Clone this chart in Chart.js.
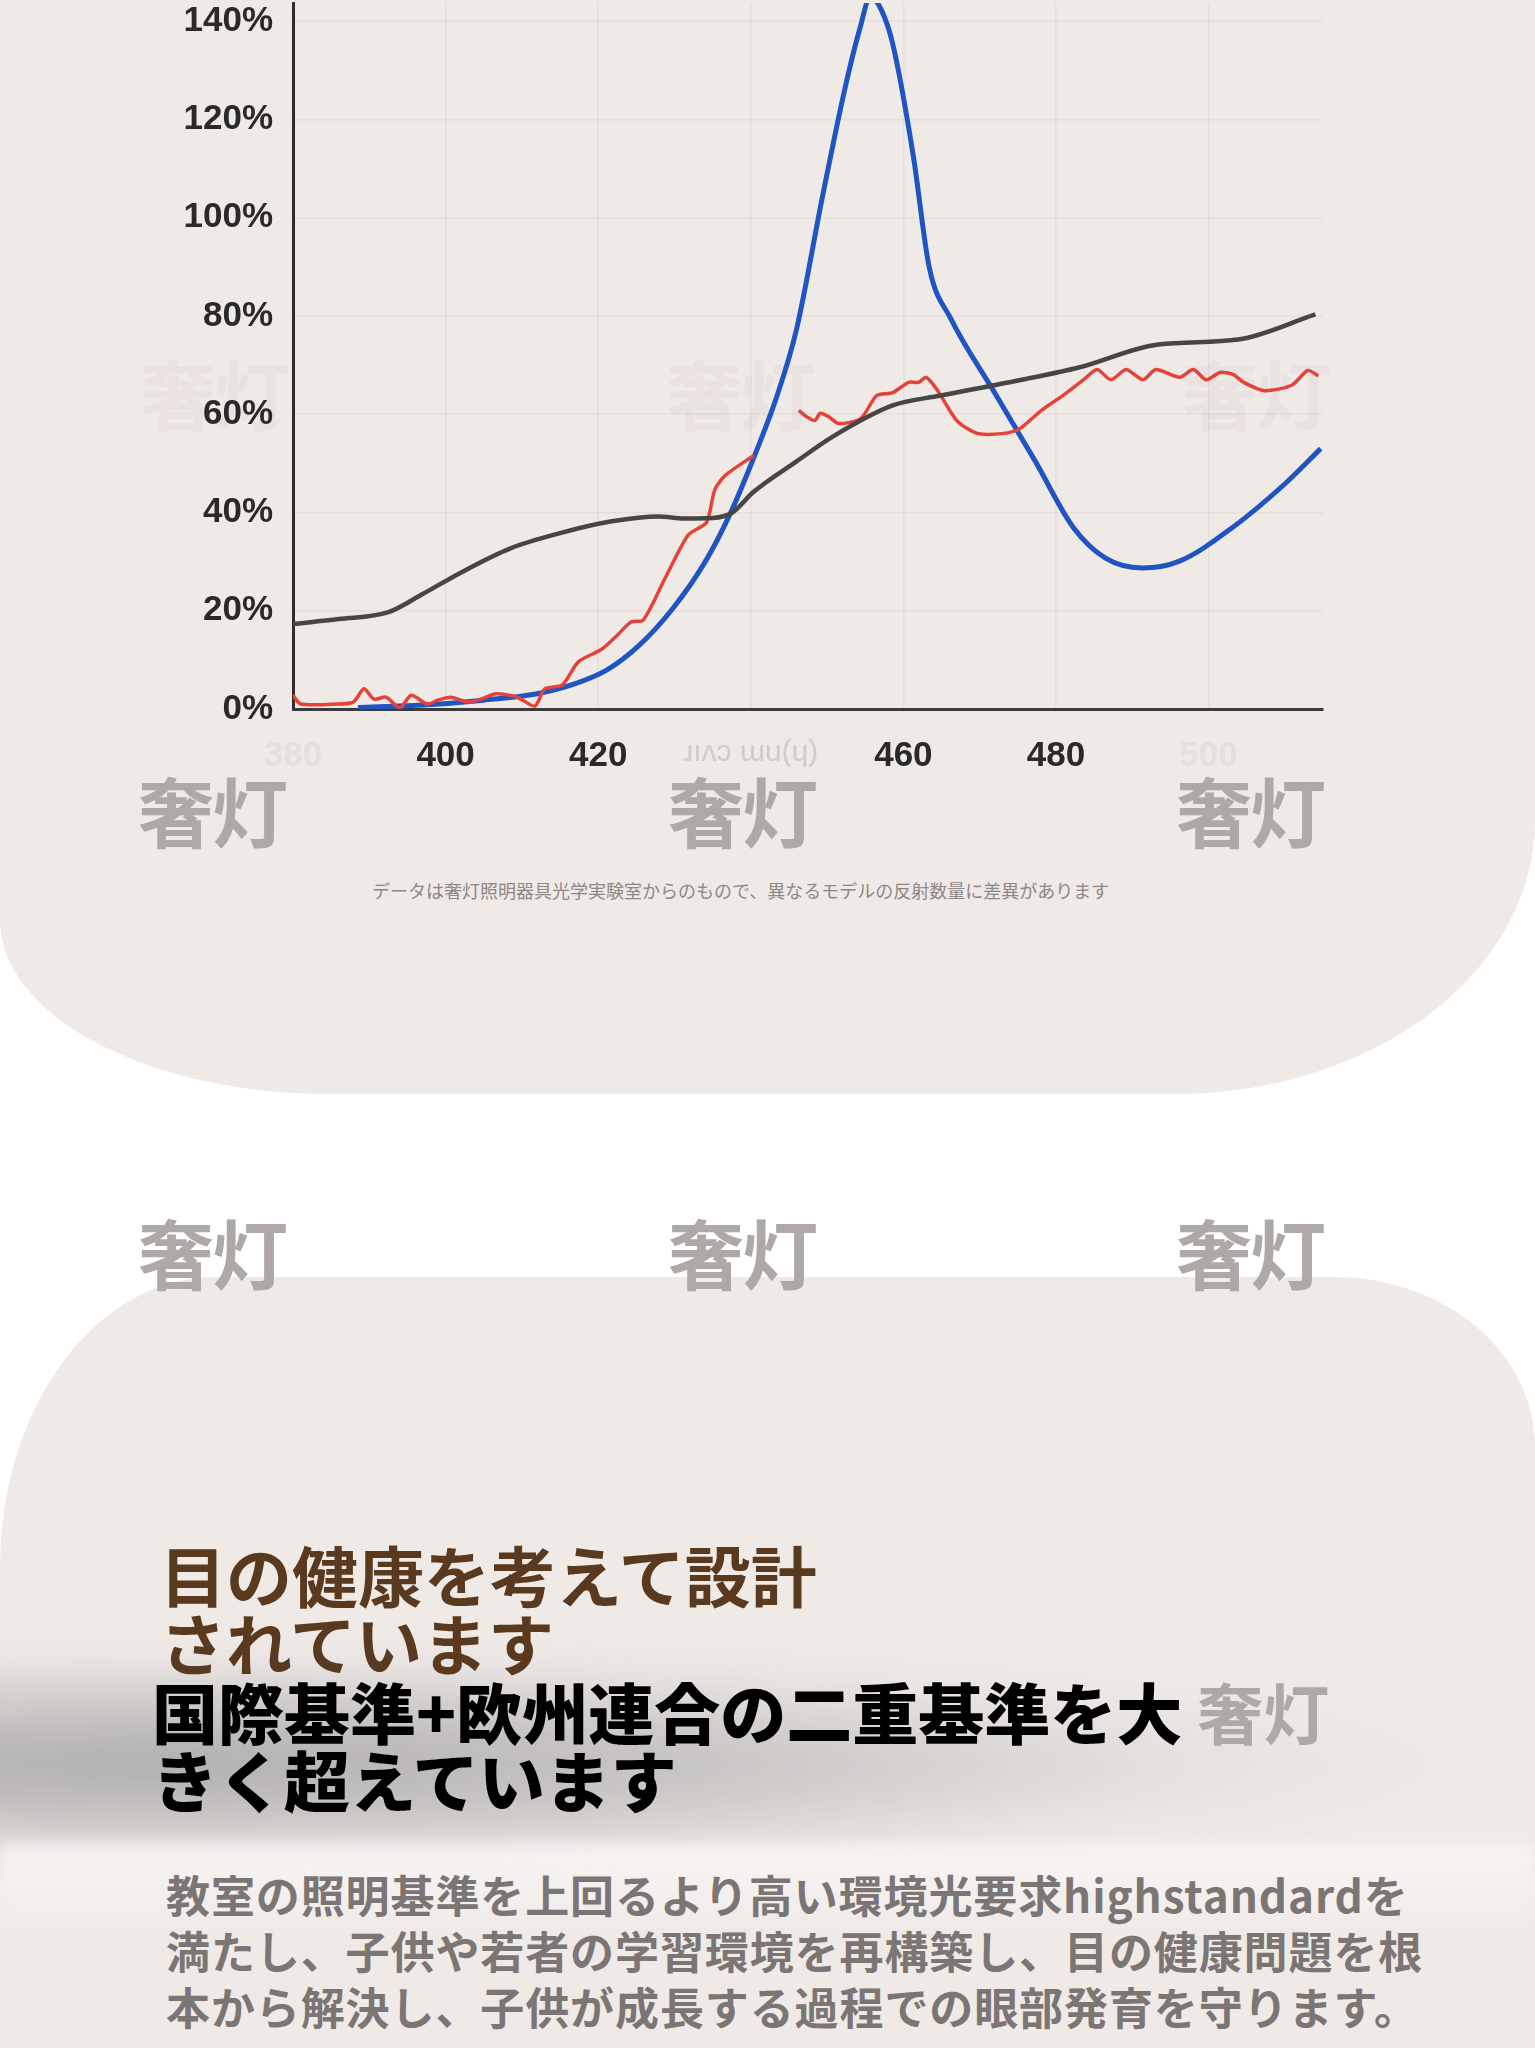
<!DOCTYPE html>
<html lang="ja">
<head>
<meta charset="UTF-8">
<title>分光反射率</title>
<script src="https://cdn.jsdelivr.net/npm/chart.js"></script>
<style>
  html, body { margin: 0; padding: 0; }
  body { width: 1535px; height: 2048px; background: #fff; position: relative; overflow: hidden; font-family: "Noto Sans CJK JP", "Noto Sans", sans-serif; }
  .card1 { position: absolute; left: 0; top: 0; width: 1535px; height: 1094px; background: #f0eae7;
           border-bottom-left-radius: 330px 174px; border-bottom-right-radius: 360px 273px; }
  .card2 { position: absolute; left: 0; top: 1277px; width: 1535px; height: 771px; background: #f0eae7;
           border-top-left-radius: 215px 290px; border-top-right-radius: 200px 170px; overflow: hidden; }
  .smudge { position: absolute; left: -150px; top: 380px; width: 1650px; height: 195px;
            background: radial-gradient(ellipse 80% 62% at 18% 55%, rgba(150,150,150,0.72), rgba(170,170,170,0.55) 45%, rgba(195,195,195,0.2) 80%, rgba(200,200,200,0) 100%);
            filter: blur(16px); }
  .glow { position: absolute; left: 0; top: 568px; width: 1535px; height: 90px;
          background: linear-gradient(rgba(248,247,246,0.9), rgba(248,247,246,0)); filter: blur(8px); }
  #wrap { position: absolute; left: 0; top: -38px; width: 1340px; height: 830px; }
  .wm { position: absolute; font-weight: 700; font-size: 76px; line-height: 1; color: #aea8a6; letter-spacing: -2px; }
  .wm.faint { color: rgba(170,160,156,0.09); }
  .note { position: absolute; left: 372px; top: 877px; font-size: 18px; color: #8d8785; white-space: nowrap; letter-spacing: 0px; }
  .title { position: absolute; left: 160px; top: 1539px; font-size: 66px; line-height: 68px; font-weight: 700; color: #5a3a1f; }
  .sub { position: absolute; left: 152px; top: 1676px; font-size: 66px; line-height: 68px; font-weight: 900; color: #000; white-space: nowrap; }
  .sub span { color: #aea8a6; font-weight: 700; }
  .para { position: absolute; left: 166px; top: 1866px; font-size: 44px; line-height: 56px; font-weight: 700; color: #7b7573; letter-spacing: 0.9px; white-space: nowrap; }
</style>
</head>
<body>
<div class="card1"></div>
<div class="card2"><div class="smudge"></div><div class="glow"></div></div>

<div class="wm faint" style="left:140px; top:354px;">奢灯</div>
<div class="wm faint" style="left:666px; top:354px;">奢灯</div>
<div class="wm faint" style="left:1182px; top:354px;">奢灯</div>

<div id="wrap"><canvas id="chart"></canvas></div>

<div class="wm" style="left:138px; top:771px;">奢灯</div>
<div class="wm" style="left:668px; top:771px;">奢灯</div>
<div class="wm" style="left:1176px; top:771px;">奢灯</div>
<div class="note">データは奢灯照明器具光学実験室からのもので、異なるモデルの反射数量に差異があります</div>

<div class="wm" style="left:138px; top:1213px;">奢灯</div>
<div class="wm" style="left:668px; top:1213px;">奢灯</div>
<div class="wm" style="left:1176px; top:1213px;">奢灯</div>

<div class="title">目の健康を考えて設計<br>されています</div>
<div class="sub">国際基準+欧州連合の二重基準を大 <span>奢灯</span><br>きく超えています</div>
<div class="para">教室の照明基準を上回るより高い環境光要求highstandardを<br>満たし、子供や若者の学習環境を再構築し、目の健康問題を根<br>本から解決し、子供が成長する過程での眼部発育を守ります。</div>

<script>
// 波長 (nm) と反射率 (%)
const blueNm  = [388.5, 397, 405, 412, 416.9, 421.1, 425.4, 429.7, 434, 437.2, 440.4, 443.5, 446, 449.4, 452.3, 454.3, 455.7, 457.2, 458.6, 461.3, 463.4, 466.2, 471.8, 477.3, 482.3, 486.5, 491.3, 496.2, 503.1, 510.2, 514.7];
const blueVal = [0.3, 0.8, 1.8, 3.1, 5.1, 7.9, 13, 20.3, 29.9, 39.4, 51.2, 64, 77.3, 104.3, 126, 138.5, 145, 142, 135.4, 112.6, 89.8, 79.5, 64.8, 50.4, 36.9, 30.7, 28.7, 30.1, 36.9, 46.1, 53];

const redNm  = [380, 381, 385.8, 387.9, 389.3, 390.6, 392.2, 394, 395.5, 397.6, 399, 400.7, 403, 405, 406.6, 409.4, 411.7, 413, 415.3, 417.4, 420.5, 422.5, 424.3, 425.9, 428.7, 431.8, 434.2, 435.3, 436.7, 440.4, 443,
                446.3, 447.3, 448.4, 449.1, 450.2, 451.5, 454.4, 456.5, 458.6, 460.7, 462, 463, 464.5, 467, 469.7, 473.2, 475.3, 478.1, 480.9, 483.6, 485.4, 487.2, 489.2, 491.4, 493.1, 496.2, 498, 499.7, 501.5, 503.2, 504.6, 507.3, 510.9, 513, 514.4];
const redVal = [2.8, 1.0, 1.0, 1.4, 4.1, 2.0, 2.4, 0.2, 2.8, 1.0, 1.8, 2.4, 1.4, 2.2, 3.1, 2.4, 0.6, 4.1, 4.9, 9.6, 12.2, 15, 17.7, 18.1, 26.4, 35.4, 38, 44.7, 47.6, 51.6, null,
                60.8, 59.5, 58.7, 60.2, 59.5, 58.1, 59.1, 63.8, 64.4, 66.5, 66.5, 67.5, 64.8, 58.7, 56.1, 56.1, 57.1, 60.8, 63.8, 67, 69.1, 67, 69.1, 67, 69.1, 67.5, 69.1, 67, 68.5, 68.1, 66.5, 64.8, 65.9, 68.9, 67.8];

const grayNm  = [380, 386, 392.5, 397, 401.8, 408.5, 415, 421.8, 427.9, 431.3, 435, 437.6, 440.3, 446, 450.8, 458.6, 464.9, 475.2, 483, 493.4, 503.9, 514];
const grayVal = [17.3, 18.3, 19.7, 23.4, 27.6, 32.7, 35.8, 38.2, 39.2, 38.8, 38.9, 40, 44.1, 50.4, 55.5, 61.8, 63.8, 66.9, 69.5, 74.2, 75.2, 80.3];

const xTicks = { 380: "380", 400: "400", 420: "420", 440: "ɹıʌɔ ɯu(ɥ)", 460: "460", 480: "480", 500: "500" };

function pts(xs, ys) {
  return xs.map((x, i) => ({ x: x, y: ys[i] }));
}

new Chart(document.getElementById("chart"), {
  type: "line",
  data: {
    datasets: [
      { data: pts(grayNm, grayVal), borderColor: "#464646", borderWidth: 4.5, pointRadius: 0, cubicInterpolationMode: "monotone" },
      { data: pts(redNm, redVal), borderColor: "#e5423a", borderWidth: 3.5, pointRadius: 0, tension: 0.25, spanGaps: false },
      { data: pts(blueNm, blueVal), borderColor: "#1f54c2", borderWidth: 5, pointRadius: 0, cubicInterpolationMode: "monotone" }
    ]
  },
  options: {
    responsive: true,
    maintainAspectRatio: false,
    animation: false,
    layout: { padding: { top: 0, right: 17, left: 0, bottom: 0 } },
    plugins: { legend: { display: false }, tooltip: { enabled: false } },
    scales: {
      x: {
        type: "linear", min: 380, max: 515,
        afterFit: s => { s.height = 83; },
        grid: { color: "rgba(120,100,90,0.08)", lineWidth: 1.5, drawTicks: false },
        border: { color: "#3c3c3c", width: 3 },
        ticks: {
          stepSize: 20, includeBounds: false, padding: 26,
          maxRotation: 0, minRotation: 0, autoSkip: false,
          font: c => (c.tick && c.tick.value === 440)
                    ? { family: "Liberation Sans", size: 30, weight: "normal" }
                    : { family: "Liberation Sans", size: 35, weight: "bold" },
          color: c => (c.tick && (c.tick.value === 380 || c.tick.value === 500)) ? "rgba(190,180,176,0.2)"
                    : (c.tick && c.tick.value === 440) ? "rgba(200,192,188,0.75)" : "#2a2a2a",
          callback: v => xTicks[v] || ""
        }
      },
      y: {
        min: 0, max: 143.7,
        afterFit: s => { s.width = 293; },
        grid: { color: "rgba(120,100,90,0.08)", lineWidth: 1.5, drawTicks: false },
        border: { color: "#2e2e2e", width: 3 },
        ticks: {
          stepSize: 20, includeBounds: false, padding: 20,
          font: { family: "Liberation Sans", size: 35, weight: "bold" },
          color: "#2a2a2a",
          callback: v => v + "%"
        }
      }
    }
  }
});
</script>
</body>
</html>
